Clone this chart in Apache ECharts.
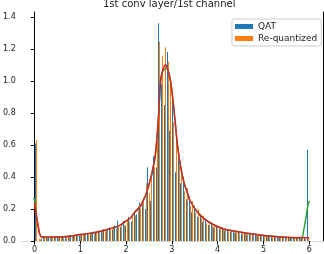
<!DOCTYPE html>
<html>
<head>
<meta charset="utf-8">
<script src="https://cdn.jsdelivr.net/npm/echarts@6/dist/echarts.min.js"></script>
<style>html,body{margin:0;padding:0;background:#fff;}#c{width:324px;height:254px;}</style>
</head>
<body>
<div id="c"></div>
<script>
// ---- data ----
const title = '1st conv layer/1st channel';
const seriesNames = ['QAT', 'Re-quantized'];
const binCount = 100, binMin = 0, binMax = 6;
const xTicks = [0, 1, 2, 3, 4, 5, 6];
const yTicks = [0, 0.2, 0.4, 0.6, 0.8, 1.0, 1.2, 1.4];
const qatDensity = [
 0.61,0.0,0.010,0.022,0.018,0.024,0.020,0.027,0.019,0.030,
 0.024,0.032,0.027,0.036,0.031,0.041,0.036,0.046,0.040,0.052,
 0.044,0.058,0.050,0.066,0.056,0.075,0.062,0.085,0.072,0.097,
 0.128,0.088,0.125,0.095,0.150,0.120,0.180,0.165,0.240,0.230,
 0.200,0.460,0.250,0.530,0.460,1.36,0.98,0.85,1.18,0.69,
 0.90,0.43,0.52,0.36,0.40,0.26,0.28,0.18,0.22,0.15,
 0.17,0.12,0.14,0.10,0.115,0.085,0.097,0.075,0.085,0.065,
 0.072,0.058,0.066,0.052,0.060,0.046,0.054,0.041,0.049,0.037,
 0.045,0.034,0.041,0.031,0.037,0.028,0.033,0.025,0.030,0.023,
 0.028,0.021,0.026,0.019,0.024,0.018,0.022,0.017,0.020,0.57
];
const reqDensity = [
 0.63,0.012,0.018,0.020,0.026,0.016,0.027,0.020,0.028,0.022,
 0.031,0.025,0.034,0.029,0.038,0.033,0.043,0.038,0.049,0.042,
 0.054,0.047,0.060,0.052,0.070,0.060,0.079,0.068,0.090,0.078,
 0.085,0.112,0.098,0.135,0.118,0.165,0.160,0.215,0.205,0.272,
 0.360,0.300,0.420,0.460,0.620,1.245,1.156,1.21,1.12,1.01,
 0.74,0.66,0.47,0.45,0.31,0.33,0.22,0.25,0.18,0.20,
 0.14,0.16,0.11,0.125,0.095,0.105,0.080,0.090,0.070,0.078,
 0.060,0.068,0.054,0.062,0.049,0.056,0.044,0.050,0.040,0.046,
 0.036,0.042,0.032,0.038,0.029,0.034,0.026,0.031,0.024,0.029,
 0.022,0.027,0.020,0.025,0.019,0.023,0.017,0.021,0.016,0.018
];
const redCurve = [
 [0,0.24],[0.05,0.14],[0.09,0.08],[0.12,0.037],[0.16,0.025],[0.3,0.024],[0.5,0.025],
 [0.63,0.026],[0.8,0.031],[1.0,0.040],[1.17,0.046],[1.4,0.058],[1.6,0.072],[1.8,0.09],
 [1.9,0.104],[2.0,0.125],[2.1,0.145],[2.19,0.18],[2.33,0.225],[2.48,0.33],[2.62,0.50],
 [2.69,0.70],[2.73,0.89],[2.76,1.02],[2.82,1.08],[2.86,1.10],[2.91,1.07],[2.97,1.00],
 [3.02,0.89],[3.07,0.75],[3.13,0.58],[3.20,0.45],[3.27,0.36],[3.34,0.30],[3.41,0.245],
 [3.56,0.18],[3.70,0.14],[3.92,0.10],[4.13,0.075],[4.35,0.062],[4.64,0.048],[5.0,0.035],
 [5.14,0.031],[5.4,0.025],[5.7,0.021],[6.0,0.020]
];
const greenCurve = [
 [-0.02,0.27],[0,0.26],[0.03,0.2],[0.06,0.13],[0.09,0.075],[0.12,0.04],[0.16,0.026],
 [0.3,0.024],[0.5,0.025],[0.63,0.026],[0.8,0.031],[1.0,0.040],[1.17,0.046],[1.4,0.058],
 [1.6,0.072],[1.8,0.09],[1.9,0.104],[2.0,0.125],[2.1,0.145],[2.19,0.18],[2.33,0.225],
 [2.48,0.33],[2.62,0.50],[2.69,0.70],[2.73,0.88],[2.76,1.0],[2.80,1.06],[2.84,1.07],
 [2.88,1.08],[2.92,1.06],[2.97,1.0],[3.02,0.89],[3.07,0.75],[3.13,0.58],[3.20,0.45],
 [3.27,0.36],[3.34,0.30],[3.41,0.245],[3.56,0.18],[3.70,0.14],[3.92,0.10],[4.13,0.075],
 [4.35,0.062],[4.64,0.048],[5.0,0.035],[5.14,0.031],[5.4,0.025],[5.7,0.021],[5.83,0.022],
 [5.88,0.07],[5.93,0.15],[5.98,0.235],[6.01,0.25]
];
// ---- chart ----
const binW = (binMax - binMin) / binCount;
const barHalf = 0.2 * binW;
const qatData = qatDensity.map((v, i) => [binMin + (i + 0.5) * binW - barHalf, v]);
const reqData = reqDensity.map((v, i) => [binMin + (i + 0.5) * binW + barHalf, v]);
function barRender(color) {
  return function (params, api) {
    const x = api.value(0), y = api.value(1);
    const p0 = api.coord([x - barHalf, y]);
    const p1 = api.coord([x + barHalf, 0]);
    const left = Math.round(p0[0]);
    const w = Math.max(1, Math.round(p1[0] - p0[0]));
    return {type: 'rect', shape: {x: left, y: p0[1], width: w, height: p1[1] - p0[1]},
      style: {fill: color}};
  };
}
const font = 'DejaVu Sans';
const chart = echarts.init(document.getElementById('c'), null, {renderer: 'canvas'});
chart.setOption({
  animation: false,
  backgroundColor: '#fff',
  title: {text: title, left: 103, top: -1, padding: 0,
    textStyle: {fontFamily: font, fontSize: 10, fontWeight: 'normal', color: '#222'}},
  legend: {
    orient: 'vertical', left: 232, top: 19, padding: [3, 4, 3, 3], itemGap: 3,
    itemWidth: 18, itemHeight: 5, borderColor: '#ccc', borderWidth: 1, borderRadius: 2,
    backgroundColor: 'rgba(255,255,255,0.8)',
    textStyle: {fontFamily: font, fontSize: 9, color: '#222'},
    data: [{name: seriesNames[0], icon: 'rect'}, {name: seriesNames[1], icon: 'rect'}]
  },
  grid: {left: 17, right: 1, top: 12, bottom: 13},
  xAxis: {type: 'value', min: -0.3, max: 6.3,
    axisLine: {show: true, lineStyle: {color: '#d8d8d8', width: 1}},
    axisTick: {show: true, length: 3.5, lineStyle: {color: '#000'}, customValues: xTicks},
    axisLabel: {fontFamily: font, fontSize: 8, color: '#222', margin: 5, customValues: xTicks,
      formatter: v => String(v)},
    splitLine: {show: false}},
  yAxis: [
    {type: 'value', min: 0, max: 1.43,
     axisLine: {show: true, lineStyle: {color: '#000', width: 1}},
     axisTick: {show: true, length: 3.5, lineStyle: {color: '#000'}, customValues: yTicks},
     axisLabel: {fontFamily: font, fontSize: 8, color: '#222', margin: 5, customValues: yTicks,
       formatter: v => v.toFixed(1)},
     splitLine: {show: false}},
    {type: 'value', min: 0, max: 1.43, position: 'right',
     axisLine: {show: true, lineStyle: {color: '#000', width: 1}},
     axisTick: {show: false}, axisLabel: {show: false}, splitLine: {show: false}}
  ],
  series: [
    {name: seriesNames[0], type: 'custom', renderItem: barRender('#1f77b4'), data: qatData,
     itemStyle: {color: '#1f77b4'}, encode: {x: 0, y: 1}, clip: true, z: 2},
    {name: seriesNames[1], type: 'custom', renderItem: barRender('#ff7f0e'), data: reqData,
     itemStyle: {color: '#ff7f0e'}, encode: {x: 0, y: 1}, clip: true, z: 2},
    {name: 'green', type: 'line', data: greenCurve, showSymbol: false, smooth: 0.4,
     lineStyle: {color: '#2ca02c', width: 1.5}, itemStyle: {color: '#2ca02c'}, z: 3},
    {name: 'red', type: 'line', data: redCurve, showSymbol: false, smooth: 0.4,
     lineStyle: {color: '#d62728', width: 1.5}, itemStyle: {color: '#d62728'}, z: 4}
  ]
});
</script>
</body>
</html>
